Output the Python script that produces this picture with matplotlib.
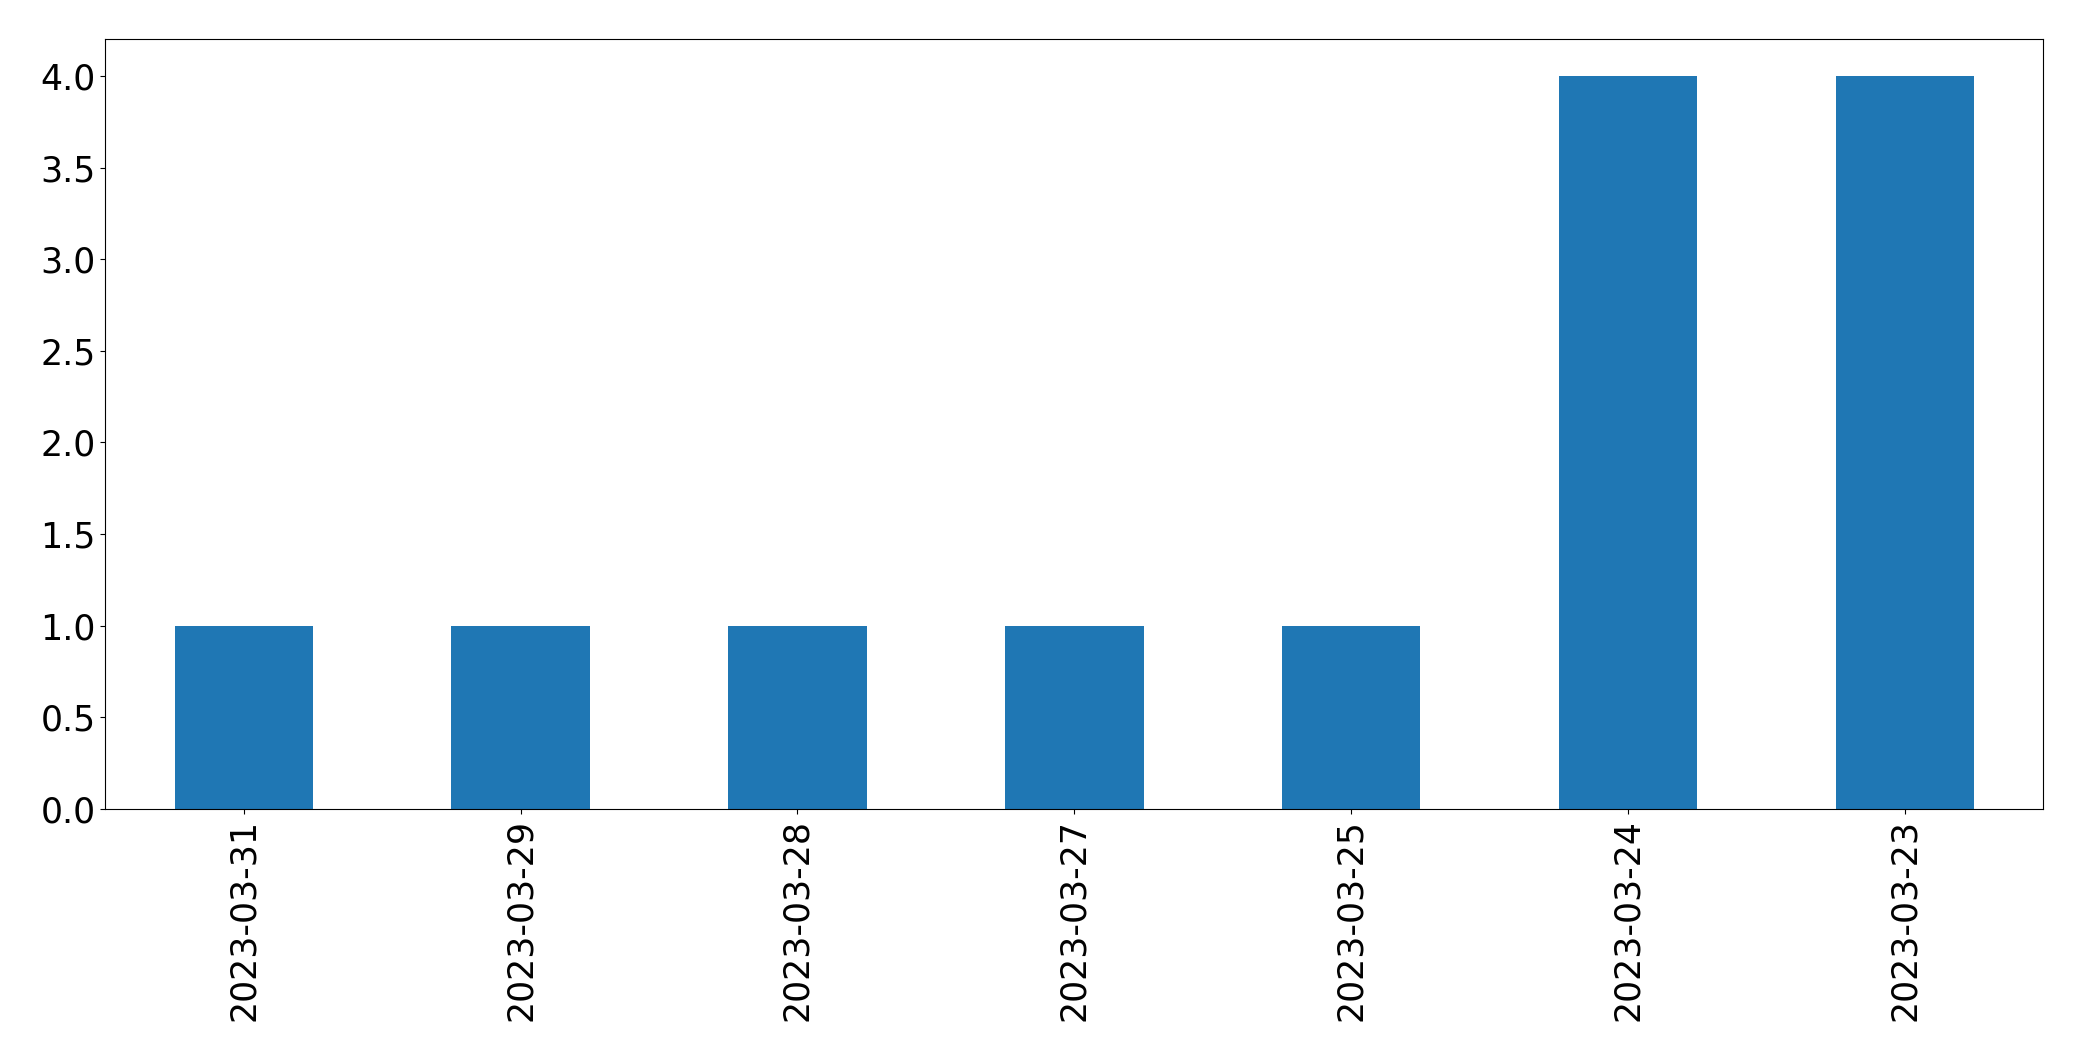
import matplotlib
matplotlib.use("Agg")
import matplotlib.pyplot as plt

dates = ["2023-03-31", "2023-03-29", "2023-03-28", "2023-03-27",
         "2023-03-25", "2023-03-24", "2023-03-23"]
counts = [1, 1, 1, 1, 1, 4, 4]

fig = plt.figure(figsize=(20.82, 10.61), dpi=100)
ax = fig.add_axes([105.3 / 2082, 1 - 809 / 1061, (2043.3 - 105.3) / 2082, (809 - 39.3) / 1061])
x = list(range(len(dates)))
ax.bar(x, counts, width=0.5, color="#1f77b4")
ax.set_xlim(-0.5, len(dates) - 0.5)
ax.set_ylim(0, 4.2)
ax.set_xticks(x)
ax.set_xticklabels(dates, rotation=90)
ax.set_yticks([0, 0.5, 1.0, 1.5, 2.0, 2.5, 3.0, 3.5, 4.0])
ax.tick_params(labelsize=25)
fig.savefig("out.png", dpi=100)
